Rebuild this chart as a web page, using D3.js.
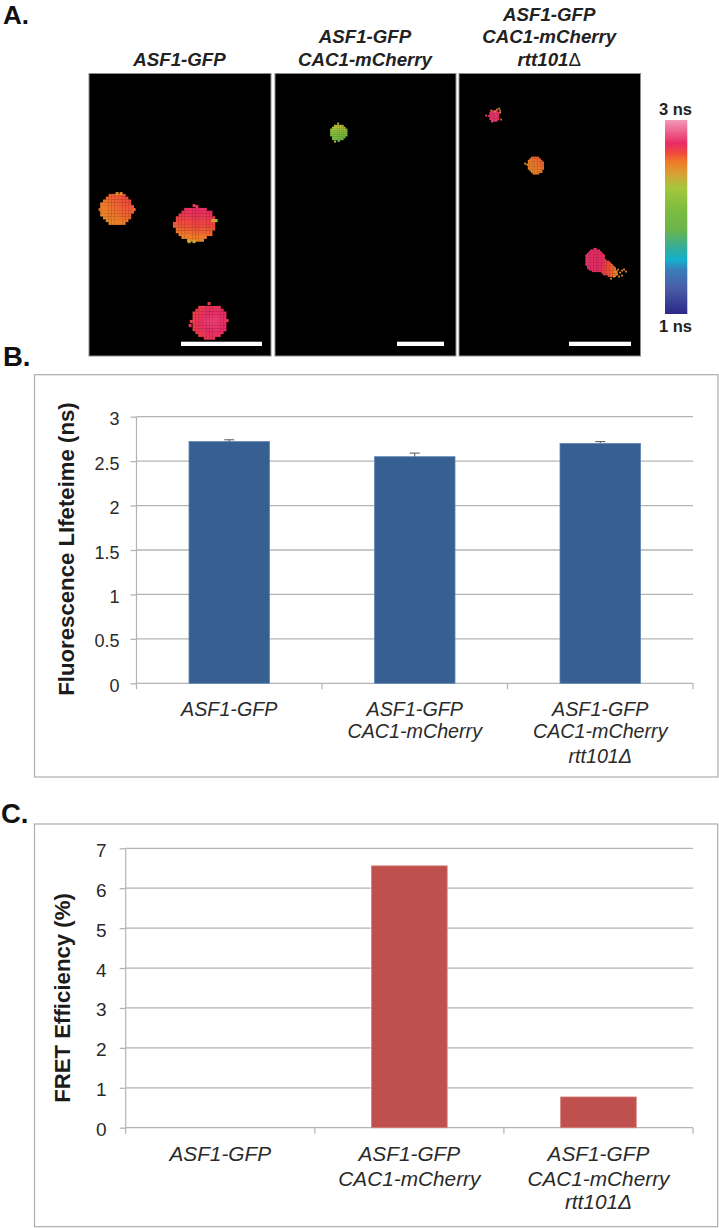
<!DOCTYPE html>
<html><head><meta charset="utf-8">
<script src="https://cdn.jsdelivr.net/npm/d3@7"></script>
<style>
html,body{margin:0;padding:0;background:#fff;}
svg{display:block;}
text{font-family:"Liberation Sans",Arial,sans-serif;}
</style></head><body><div id="chart"></div>
<script>
// ---------- chart data ----------
const categories = ["ASF1-GFP", "ASF1-GFP|CAC1-mCherry", "ASF1-GFP|CAC1-mCherry|rtt101Δ"];
const lifetimeValues = [2.72, 2.55, 2.70];
const lifetimeErrors = [0.02, 0.04, 0.02];
const fretValues = [0, 6.56, 0.77];
const lifetimeTicks = [0, 0.5, 1, 1.5, 2, 2.5, 3];
const fretTicks = [0, 1, 2, 3, 4, 5, 6, 7];
// colour bar: lifetime (ns) to colour
const barNs = [3, 2.76, 2.66, 2.57, 2.45, 2.30, 2.07, 1.87, 1.69, 1.56, 1.45, 1.28, 1];
const barColors = ["#f29ab8", "#e92c65", "#f0483c", "#f07a28", "#d8a032", "#a6c63c", "#7cbc40", "#6cb54a", "#38ad96", "#14b0cc", "#3a7cb8", "#4a60a8", "#2e2888"];
// FLIM images: measured cells, in image pixels, with lifetime in ns
// [panel, x, y, rx, ry, rotation, core ns, ns per px in x, ns per px in y, centre boost]
const cellParts = [
  [0, 27.7, 136, 16.3, 16, 0, 2.59, 0.003, -0.003, 0.015],
  [0, 106, 150.5, 21, 17.5, -8, 2.65, 0.001, -0.007, 0.03],
  [0, 120.3, 248.2, 18.2, 17.2, 0, 2.72, 0.002, 0.000, 0.09],
  [1, 63.3, 59, 8.5, 8.5, 0, 2.17, 0.000, -0.032, 0],
  [2, 35, 42, 5.5, 6, 0, 2.78, 0.000, 0.000, 0],
  [2, 76.7, 92, 8.2, 9, -20, 2.57, 0.004, -0.004, 0],
  [2, 136, 186.5, 10, 11.5, 0, 2.76, -0.002, 0.000, 0],
  [2, 146, 193.5, 14, 7, 35, 2.68, -0.010, 0.000, 0]
];
// isolated bright pixels around the cells: [panel, x, y, ns]
const spurs = [
  [0,28,120,2.5],[0,32,120,2.5],[0,45,136,2.6],[0,11,136,2.6],[0,127,147,2.3],[0,124,147,2.4],[0,105,132,2.7],[0,100,168,2.4],[0,105,168,2.4],
  [0,120,230,2.7],[0,138,247,2.7],[0,101,252,2.75],[1,63,50,2.1],[1,60,68,2.4],
  [2,38,36,2.55],[2,40,35,2.55],[2,41,37,2.55],[2,36,38,2.55],[2,41,39,2.55],[2,32,37,2.6],[2,42,46,2.6],[2,27,42,2.8],[2,33,48,2.8],
  [2,66,90,2.5],[2,68,91,2.5],[2,70,88,2.55],
  [2,156,198,2.5],[2,159,196,2.5],[2,161,199,2.5],[2,163,197,2.55],[2,165,196,2.55],[2,167,198,2.55],[2,158,201,2.5],[2,155,203,2.5],[2,152,205,2.5],[2,163,202,2.55],[2,160,203,2.5]
];
// ---------- layout ----------
const W = 719, H = 1228;
const svg = d3.select("#chart").append("svg").attr("width", W).attr("height", H);
const ink = "#222";
const gridC = "#b4b4b4";

// panel letters
[["A.", 24, 26, 3], ["B.", 366, 27.5, 3], ["C.", 822.5, 27.5, 1]].forEach(([t, y, fs, x]) =>
  svg.append("text").attr("x", x).attr("y", y).attr("font-size", fs).attr("font-weight", "bold").attr("fill", "#111").text(t));

// ---------- panel A ----------
const panels = [
  {x0: 89, x1: 271, cell: 2.8, bar: [181, 262], title: ["ASF1-GFP"]},
  {x0: 275, x1: 456, cell: 1.9, bar: [397, 444], title: ["ASF1-GFP", "CAC1-mCherry"]},
  {x0: 459, x1: 640.5, cell: 1.6, bar: [569, 631], title: ["ASF1-GFP", "CAC1-mCherry", "rtt101Δ"]}
];
const imgTop = 73.5, imgBottom = 356;
const nsColor = d3.scaleLinear().domain(barNs).range(barColors).clamp(true);

const defs = svg.append("defs");
defs.append("filter").attr("id", "soft").append("feGaussianBlur").attr("stdDeviation", 0.5);
const grad = defs.append("linearGradient").attr("id", "nsGrad").attr("x1", 0).attr("x2", 0).attr("y1", 0).attr("y2", 1);
const barY = d3.scaleLinear().domain([3, 1]).range([120, 314]);
barNs.forEach((n, i) => grad.append("stop").attr("offset", (barY(n) - 120) / 194).attr("stop-color", barColors[i]));

panels.forEach((p, pi) => {
  const g = svg.append("g");
  g.append("rect").attr("x", p.x0).attr("y", imgTop).attr("width", p.x1 - p.x0).attr("height", imgBottom - imgTop)
    .attr("fill", "#000").attr("stroke", "#8c8c8c").attr("stroke-width", 1);
  const px = [];
  const cols = Math.floor((p.x1 - p.x0) / p.cell), rows = Math.floor((imgBottom - imgTop) / p.cell);
  const parts = cellParts.filter(c => c[0] === pi);
  for (let i = 0; i < cols; i++) for (let j = 0; j < rows; j++) {
    const x = (i + 0.5) * p.cell, y = (j + 0.5) * p.cell;
    for (const c of parts) {
      const dx = x - c[1], dy = y - c[2], a = c[5] * Math.PI / 180;
      const u = dx * Math.cos(a) + dy * Math.sin(a), v = -dx * Math.sin(a) + dy * Math.cos(a);
      const d = Math.hypot(u / c[3], v / c[4]);
      if (d <= 1) { px.push({x, y, ns: c[6] + c[7] * dx + c[8] * dy + c[9] * (1 - d)}); break; }
    }
  }
  spurs.filter(s => s[0] === pi).forEach(s => px.push({x: s[1], y: s[2], ns: s[3]}));
  g.append("g").attr("filter", "url(#soft)").selectAll("rect").data(px).join("rect")
    .attr("x", d => p.x0 + d.x - p.cell / 2).attr("y", d => imgTop + d.y - p.cell / 2)
    .attr("width", p.cell + 0.2).attr("height", p.cell + 0.2).attr("fill", d => nsColor(d.ns));
  g.append("rect").attr("x", p.bar[0]).attr("y", 341.7).attr("width", p.bar[1] - p.bar[0]).attr("height", 4.3).attr("fill", "#fff");
  const cx = (p.x0 + p.x1) / 2 - 0.5;
  const baselines = [65.5, 43.3, 20.7];
  p.title.forEach((t, i) => {
    const y = baselines[p.title.length - 1 - i];
    const tx = g.append("text").attr("x", cx).attr("y", y).attr("text-anchor", "middle")
      .attr("font-size", 18.7).attr("font-weight", "bold").attr("font-style", "italic").attr("fill", ink);
    if (t.endsWith("Δ")) {
      tx.append("tspan").text(t.slice(0, -1));
      tx.append("tspan").attr("font-weight", "normal").attr("font-style", "normal").text("Δ");
    } else tx.text(t);
  });
});

// colour bar
svg.append("rect").attr("x", 665).attr("y", 120).attr("width", 22.3).attr("height", 194).attr("fill", "url(#nsGrad)");
[["3 ns", 115], ["1 ns", 332]].forEach(([t, y]) =>
  svg.append("text").attr("x", 675.5).attr("y", y).attr("text-anchor", "middle").attr("font-size", 16.5).attr("font-weight", "bold").attr("fill", ink).text(t));

// ---------- bar charts ----------
function barChart(o) {
  const g = svg.append("g");
  g.append("rect").attr("x", o.frame[0]).attr("y", o.frame[1]).attr("width", o.frame[2] - o.frame[0]).attr("height", o.frame[3] - o.frame[1])
    .attr("fill", "#fff").attr("stroke", "#adadad").attr("stroke-width", 1.2);
  const x = d3.scaleBand().domain(categories).range([o.left, o.right]).paddingInner(o.pad).paddingOuter(o.pad / 2);
  const y = d3.scaleLinear().domain(o.domain).range([o.bottom, o.top]);
  // grid and value axis
  const ya = g.append("g").attr("transform", `translate(${o.left},0)`)
    .call(d3.axisLeft(y).tickValues(o.ticks).tickSize(6).tickPadding(o.tickPad).tickFormat(d3.format("~g")));
  ya.select(".domain").attr("stroke", gridC).attr("stroke-width", 1.2).attr("d", `M0,${o.top}V${o.bottom}`);
  ya.selectAll("line").attr("stroke", gridC).attr("stroke-width", 1.3);
  ya.selectAll("text").attr("font-size", o.tickFont).attr("fill", "#2a2a2a").attr("dy", null).attr("y", 8).attr("font-family", '"Liberation Sans",Arial,sans-serif');
  g.append("g").selectAll("line").data(o.ticks).join("line")
    .attr("x1", o.left).attr("x2", o.right).attr("y1", d => y(d)).attr("y2", d => y(d))
    .attr("stroke", gridC).attr("stroke-width", 1.3);
  // category axis boundaries
  const step = x.step();
  g.append("g").selectAll("line").data(d3.range(categories.length + 1)).join("line")
    .attr("x1", i => o.left + i * step).attr("x2", i => o.left + i * step)
    .attr("y1", o.bottom).attr("y2", o.bottom + 6).attr("stroke", gridC).attr("stroke-width", 1.2);
  // bars
  g.append("g").selectAll("rect").data(o.values).join("rect")
    .attr("x", (d, i) => x(categories[i])).attr("width", x.bandwidth())
    .attr("y", d => y(d)).attr("height", d => o.bottom - y(d))
    .attr("fill", o.fill).attr("stroke", d => d > 0 ? o.edge : "none").attr("stroke-width", 0.8);
  // error bars (upper arm only)
  if (o.errors) {
    const e = g.append("g").selectAll("g").data(o.errors).join("g");
    const cx = i => x(categories[i]) + x.bandwidth() / 2;
    e.append("line").attr("x1", (d, i) => cx(i)).attr("x2", (d, i) => cx(i))
      .attr("y1", (d, i) => y(o.values[i])).attr("y2", (d, i) => y(o.values[i] + d)).attr("stroke", "#555").attr("stroke-width", 1);
    e.append("line").attr("x1", (d, i) => cx(i) - 5).attr("x2", (d, i) => cx(i) + 5)
      .attr("y1", (d, i) => y(o.values[i] + d)).attr("y2", (d, i) => y(o.values[i] + d)).attr("stroke", "#555").attr("stroke-width", 1);
  }
  // category labels
  categories.forEach((c, i) => {
    const t = g.append("text").attr("text-anchor", "middle").attr("font-style", "italic").attr("font-size", o.catFont).attr("fill", "#2a2a2a");
    c.split("|").forEach((line, k) => t.append("tspan").attr("x", x(c) + x.bandwidth() / 2).attr("y", o.catBase[k]).text(line));
  });
  // value-axis title
  g.append("text").attr("transform", `translate(${o.titleX},${(o.top + o.bottom) / 2 + o.titleShift}) rotate(-90)`)
    .attr("text-anchor", "middle").attr("font-size", 22.2).attr("font-weight", "bold").attr("fill", "#1c1c1c").text(o.title);
}

barChart({
  frame: [34.5, 374.7, 718, 777], left: 136.5, right: 693, top: 416.7, bottom: 683.3,
  domain: [0, 3], ticks: lifetimeTicks, values: lifetimeValues, errors: lifetimeErrors,
  pad: 0.566, fill: "#376092", edge: "#5f86b5", tickFont: 18, tickPad: 11,
  catFont: 19.7, catBase: [715.5, 738, 762.5], title: "Fluorescence LIfeteime (ns)", titleX: 74, titleShift: -1
});
barChart({
  frame: [34.5, 824, 717.7, 1226.7], left: 125.7, right: 693, top: 848.3, bottom: 1127.7,
  domain: [0, 7], ticks: fretTicks, values: fretValues,
  pad: 0.6, fill: "#c0504d", edge: "#d4807d", tickFont: 19, tickPad: 13,
  catFont: 20.8, catBase: [1160.7, 1185.5, 1209.3], title: "FRET Efficiency (%)", titleX: 70, titleShift: 10
});
</script></body></html>
